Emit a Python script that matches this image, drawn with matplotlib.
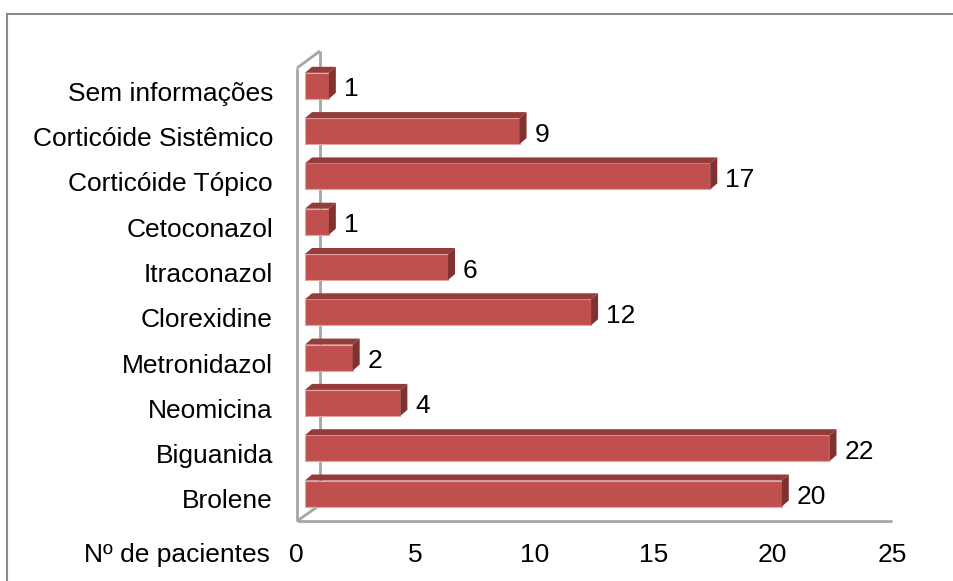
import matplotlib
matplotlib.use("Agg")
import matplotlib.pyplot as plt
from matplotlib.patches import Polygon, Rectangle
from matplotlib.lines import Line2D

plt.rcParams['font.family'] = ['Liberation Sans', 'DejaVu Sans']

categories = ["Brolene", "Biguanida", "Neomicina", "Metronidazol", "Clorexidine",
              "Itraconazol", "Cetoconazol", "Corticóide Tópico",
              "Corticóide Sistêmico", "Sem informações"]
values = [20, 22, 4, 2, 12, 6, 1, 17, 9, 1]
xticks = [0, 5, 10, 15, 20, 25]
xlabel_text = "Nº de pacientes"

W, H = 954, 581
fig = plt.figure(figsize=(W / 100, H / 100), dpi=100)
fig.patch.set_facecolor('white')

# outer chart border (top and left visible)
fig.add_artist(Line2D([7 / W, 1.0], [1 - 14 / H, 1 - 14 / H], color='#8c8c8c', lw=1.5))
fig.add_artist(Line2D([7 / W, 7 / W], [0, 1 - 14 / H], color='#8c8c8c', lw=1.5))

x0p, x1p = 296, 892
ybot, ytop = 521, 47
ax = fig.add_axes([x0p / W, 1 - ybot / H, (x1p - x0p) / W, (ybot - ytop) / H])
pxx = (x1p - x0p) / 25.0
pxy = 45.3
y_lo = -(ybot - 493.5) / pxy
y_hi = (493.5 - ytop) / pxy
ax.set_xlim(0, 25)
ax.set_ylim(y_lo, y_hi)
ax.axis('off')

def dx(p):
    return p / pxx

def dy_(p):
    return p / pxy

# walls
wall_c = '#a6a6a6'
xf = dx(1)
xb = dx(24)
y_floor = y_lo
y_floor_back = y_lo + dy_(16)
y_top_front = y_lo + dy_(521 - 68)
y_top_back = y_lo + dy_(521 - 51)
for xs, ys in [([xf, xf], [y_floor, y_top_front]),
               ([xf, xb], [y_top_front, y_top_back]),
               ([xb, xb], [y_floor_back, y_top_back]),
               ([xf, xb], [y_floor, y_floor_back]),
               ([xf, 25], [y_floor, y_floor])]:
    ax.add_line(Line2D(xs, ys, color=wall_c, lw=2, clip_on=False, solid_capstyle='butt'))

front_c = '#c0504d'
top_c = '#933c3a'
side_c = '#7f3230'
off = dx(9)
ddx = dx(7)
ddy = dy_(6)
h = dy_(26)

for i, (cat, v) in enumerate(zip(categories, values)):
    l = off
    r = off + v
    b = i - h / 2
    t = i + h / 2
    ax.add_patch(Rectangle((l, b), v, h, facecolor=front_c, edgecolor='#e6a5a3',
                           lw=0.8, clip_on=False, zorder=3))
    ax.add_patch(Polygon([(l, t), (l + ddx, t + ddy), (r + ddx, t + ddy), (r, t)],
                         closed=True, facecolor=top_c, edgecolor='none', clip_on=False, zorder=3))
    ax.add_patch(Polygon([(r, b), (r, t), (r + ddx, t + ddy), (r + ddx, b + ddy)],
                         closed=True, facecolor=side_c, edgecolor='none', clip_on=False, zorder=3))
    ax.text(r + ddx + dx(8), i - dy_(3.5), str(v), fontsize=19, va='center', ha='left', color='black')
    ax.text(dx(-23), i - dy_(8), cat, fontsize=19, va='center', ha='right', color='black')

y_tick = y_lo - dy_(555 - 521)
for xt in xticks:
    ax.text(xt, y_tick, str(xt), fontsize=19, ha='center', va='center', color='black')
ax.text(dx(-26), y_tick, xlabel_text, fontsize=19, ha='right', va='center', color='black')

fig.savefig('out.png', dpi=100)
